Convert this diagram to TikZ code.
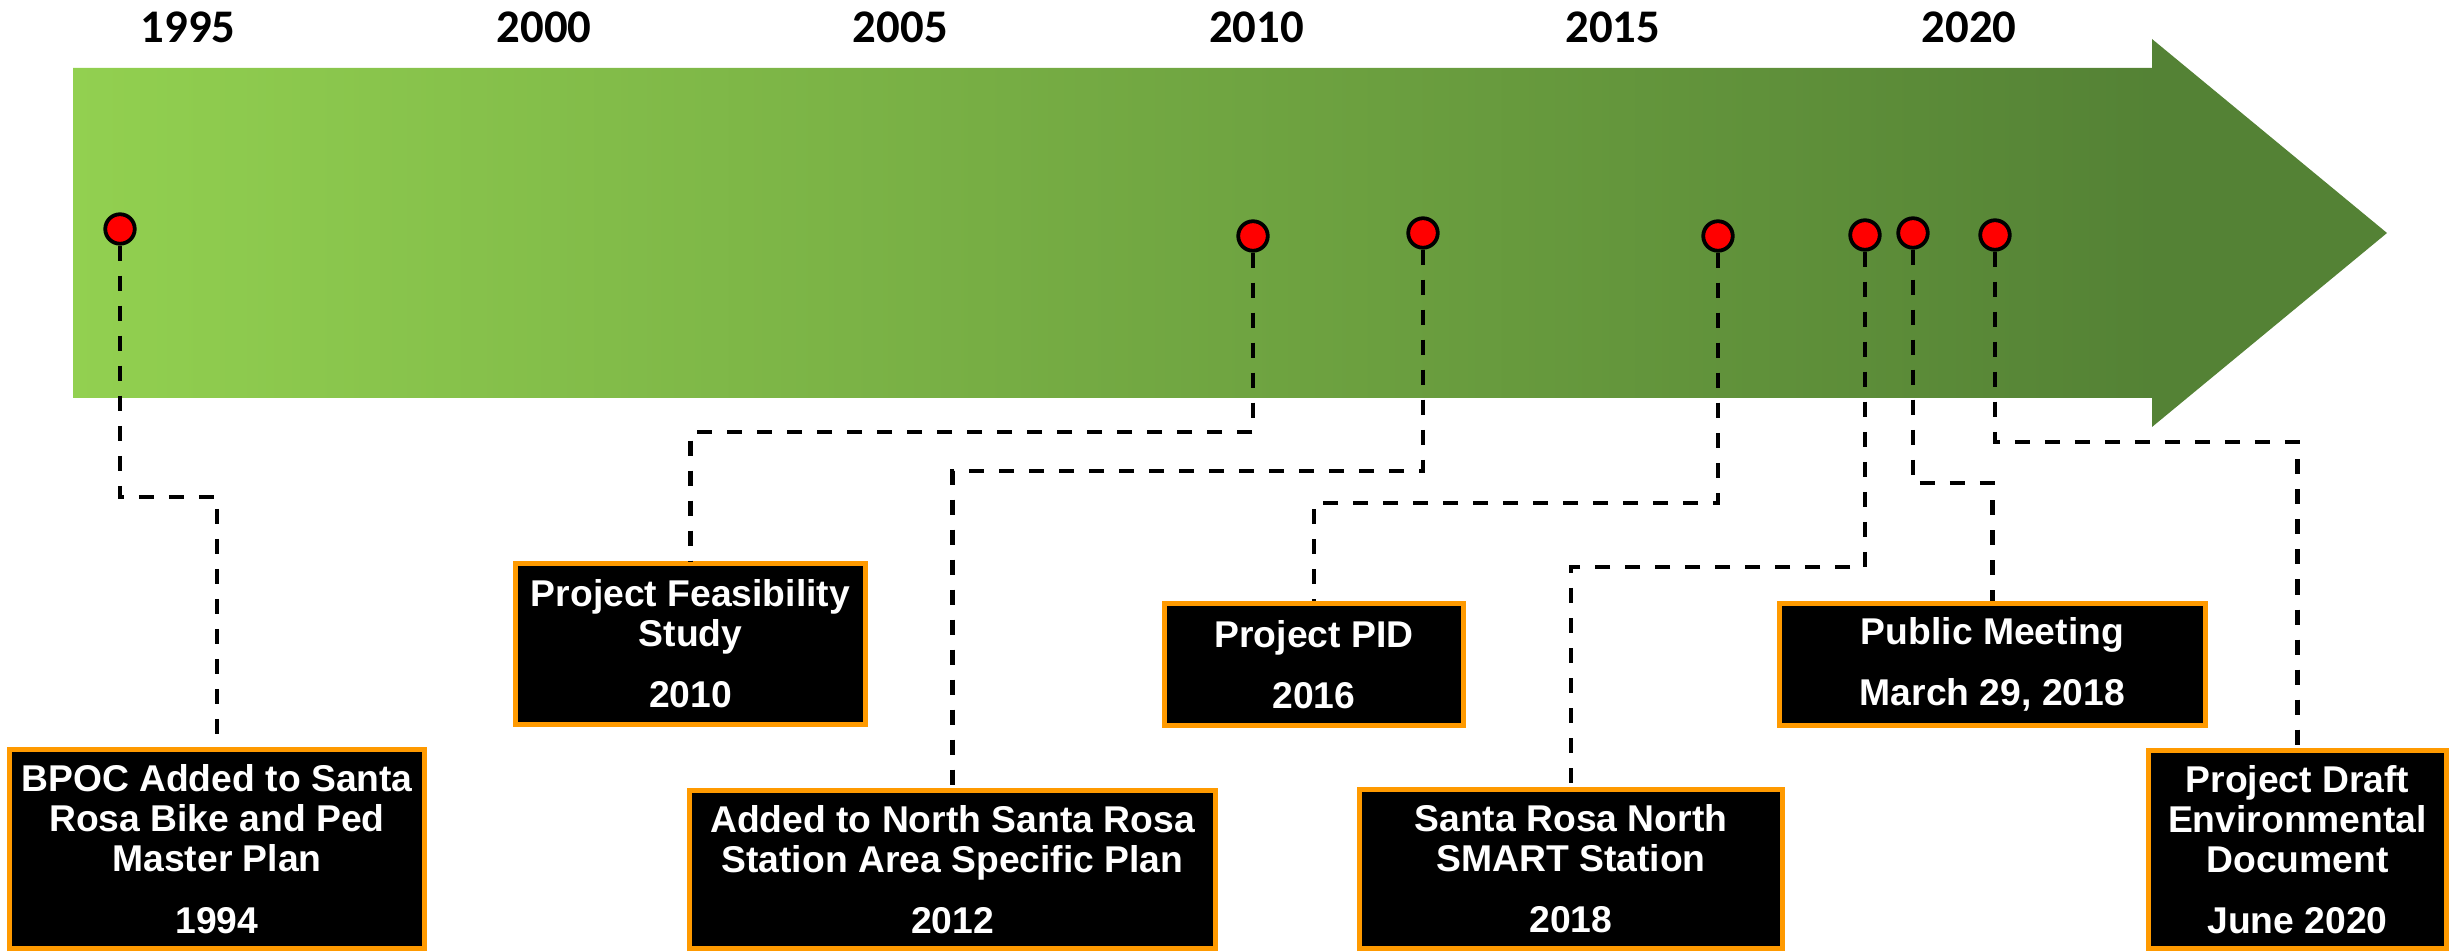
\documentclass[tikz,border=0pt]{standalone}
\usepackage{fontspec}
\setmainfont{Liberation Sans}
\newfontfamily\yearfont{Carlito}
\usepackage{tikz}
\usetikzlibrary{positioning}

\definecolor{lgreen}{HTML}{92D050}
\definecolor{dgreen}{HTML}{548235}
\definecolor{evorange}{HTML}{FF9A00}
\pgfdeclarehorizontalshading{timeline}{100bp}{color(0bp)=(lgreen); color(25bp)=(lgreen); color(70bp)=(dgreen); color(100bp)=(dgreen)}

\begin{document}
\begin{tikzpicture}[x=0.01cm,y=-0.01cm,
    redpin/.style={circle,draw=black,fill=red,line width=0.038cm,minimum size=0.295cm,inner sep=0pt},
    event/.style={rectangle,draw=evorange,fill=black,line width=0.05cm,inner sep=0pt,text=white,align=center,
      font=\fontsize{10.6}{11.4}\selectfont\bfseries},
    conn/.style={line width=0.047cm,dash pattern=on 0.15cm off 0.15cm}]
    \useasboundingbox (0,0) rectangle (2453,952);

    \shade[shading=timeline] (73,68) -- (2152,68) -- (2152,39) -- (2387,233)
      -- (2152,427) -- (2152,398) -- (73,398) -- cycle;

    \foreach \yr [count=\i from 0] in {1995,2000,...,2020}
      \node[font=\yearfont\fontsize{13.3}{14}\selectfont\bfseries] (yr_\yr) at (188+356.2*\i,27) {\yr};

    \node(p_bpoc)[redpin] at (120,229) {};
    \node(p_feas)[redpin] at (1253,236) {};
    \node(p_north)[redpin] at (1423,233) {};
    \node(p_pid)[redpin] at (1718,236) {};
    \node(p_smart)[redpin] at (1865,235) {};
    \node(p_meet)[redpin] at (1913,233) {};
    \node(p_draft)[redpin] at (1995,235) {};

    \node(e_bpoc)[event,minimum width=4.15cm,minimum height=1.99cm] at (217,849)
      {BPOC Added to Santa\\Rosa Bike and Ped\\Master Plan\\[6pt]1994};
    \node(e_feas)[event,minimum width=3.5cm,minimum height=1.61cm] at (690.5,644)
      {Project Feasibility\\Study\\[6pt]2010};
    \node(e_north)[event,minimum width=5.26cm,minimum height=1.58cm] at (952.5,869.5)
      {Added to North Santa Rosa\\Station Area Specific Plan\\[6pt]2012};
    \node(e_pid)[event,minimum width=2.99cm,minimum height=1.22cm] at (1314,664.5)
      {Project PID\\[6pt]2016};
    \node(e_smart)[event,minimum width=4.23cm,minimum height=1.59cm] at (1571,869)
      {Santa Rosa North\\SMART Station\\[6pt]2018};
    \node(e_meet)[event,minimum width=4.26cm,minimum height=1.22cm] at (1992.5,664.5)
      {Public Meeting\\[6pt]March 29, 2018};
    \node(e_draft)[event,minimum width=2.98cm,minimum height=1.98cm] at (2297.5,849.5)
      {Project Draft\\Environmental\\Document\\[6pt]June 2020};

    \coordinate(t_bpoc) at (217,497);
    \coordinate(t_feas) at (690.5,432);
    \coordinate(t_north) at (952.5,471);
    \coordinate(t_pid) at (1314,503);
    \coordinate(t_smart) at (1571,567);
    \coordinate(t_meet) at (1992.5,483);
    \coordinate(t_draft) at (2297.5,442);

    \draw[conn] (p_bpoc) |- (t_bpoc) -- (e_bpoc);
    \draw[conn] (p_feas) |- (t_feas) -- (e_feas);
    \draw[conn] (p_north) |- (t_north) -- (e_north);
    \draw[conn] (p_pid) |- (t_pid) -- (e_pid);
    \draw[conn] (p_smart) |- (t_smart) -- (e_smart);
    \draw[conn] (p_meet) |- (t_meet) -- (e_meet);
    \draw[conn] (p_draft) |- (t_draft) -- (e_draft);
\end{tikzpicture}
\end{document}
